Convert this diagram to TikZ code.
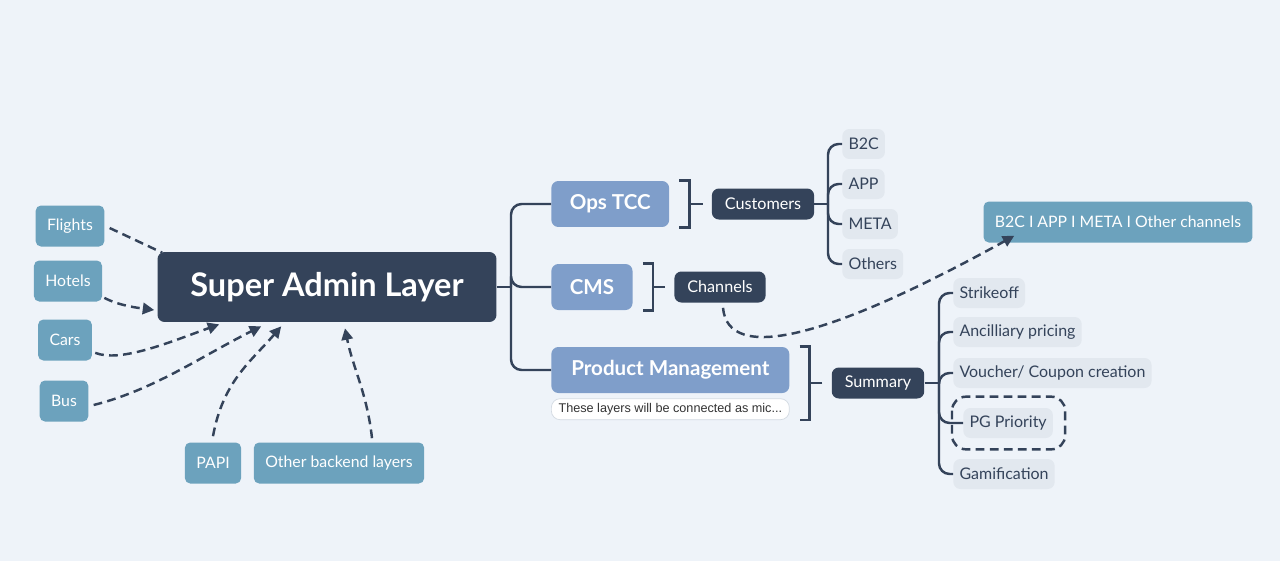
\documentclass[tikz,border=0pt]{standalone}
\usepackage{fontspec}
\setmainfont{Lato}
\newfontfamily\notefont{Liberation Sans}
\usetikzlibrary{positioning,arrows.meta,calc}

\definecolor{bgblue}{HTML}{EEF3F9}
\definecolor{navy}{HTML}{34435A}
\definecolor{steel}{HTML}{7F9ECA}
\definecolor{tealish}{HTML}{6CA2BD}
\definecolor{leafgrey}{HTML}{E2E8EF}
\definecolor{notegrey}{HTML}{D3DAE2}

\begin{document}
\begin{tikzpicture}[x=0.02cm, y=-0.02cm, node distance=0.1cm,
   mainbox/.style={rectangle, fill=navy, text=white, rounded corners=4pt, minimum width=6.78cm, minimum height=1.4cm, font=\fontsize{18.5}{20}\selectfont\bfseries},
   srcbox/.style={rectangle, fill=tealish, text=white, rounded corners=3pt, minimum height=0.82cm, inner xsep=6.5pt, font=\fontsize{9}{10}\selectfont},
   topicbox/.style={rectangle, fill=steel, text=white, rounded corners=4pt, minimum height=0.92cm, inner xsep=10.5pt, anchor=west, font=\fontsize{11.7}{13}\selectfont\bfseries},
   labelbox/.style={rectangle, fill=navy, text=white, rounded corners=4pt, minimum height=0.62cm, inner xsep=7.4pt, font=\fontsize{9.2}{10}\selectfont},
   leafbox/.style={rectangle, fill=leafgrey, text=navy, rounded corners=4pt, minimum height=0.6cm, inner xsep=3.5pt, anchor=west, font=\fontsize{9.1}{10}\selectfont},
   notebox/.style={rectangle, draw=notegrey, fill=white, rounded corners=5pt, minimum width=4.76cm, minimum height=0.42cm, inner sep=1pt, text=black!80, font=\notefont\fontsize{7.2}{8}\selectfont},
   tree/.style={draw=navy, line width=1.4pt, rounded corners=6pt},
   dashlink/.style={draw=navy, line width=1.4pt, dash pattern=on 5pt off 3pt},
   pointed/.style={-{Triangle[length=6.5pt,width=6.5pt]}}
]
% Background
\fill[bgblue] (0,0) rectangle (1280,561);

% Nodes
\node[mainbox] (sal) at (327,287) {Super Admin Layer};
\node[srcbox] (flights) at (70,226) {Flights};
\node[srcbox] (hotels) at (68,281) {Hotels};
\node[srcbox] (cars) at (65,340) {Cars};
\node[srcbox] (bus) at (64,401) {Bus};
\node[srcbox] (papi) at (213,463) {PAPI};
\node[srcbox] (backend) at (339,463) {Other backend layers};

\node[topicbox] (ops) at (551,204) {Ops TCC};
\node[topicbox] (cms) at (551,287) {CMS};
\node[topicbox, minimum width=4.76cm] (pm) at (551,370) {Product Management};
\node[notebox, below=0.1cm of pm] (note) {These layers will be connected as mic...};

\node[labelbox] (cust) at (763,204) {Customers};
\node[labelbox] (chan) at (720,287) {Channels};
\node[labelbox] (summ) at (878,383) {Summary};

\node[leafbox] (b2c) at (842,144) {B2C};
\node[leafbox] (app) at (842,184) {APP};
\node[leafbox] (meta) at (842,224) {META};
\node[leafbox] (others) at (842,264) {Others};

\node[srcbox] (allch) at (1118,222) {B2C I APP I META I Other channels};

\node[leafbox] (strike) at (953,293) {Strikeoff};
\node[leafbox] (ancil) at (953,332) {Ancilliary pricing};
\node[leafbox] (voucher) at (953,373) {Voucher/ Coupon creation};
\node[leafbox] (pgprio) at (963,423) {PG Priority};
\node[leafbox] (gamif) at (953,474) {Gamification};

\draw[dashlink, rounded corners=8pt] ($(pgprio.north west)+(-11,-11)$) rectangle ($(pgprio.south east)+(12,11)$);

% Tree lines
\coordinate (mainfork) at (511,287);
\draw[tree] (sal.east) -- (mainfork);
\foreach \n in {ops,cms,pm} \draw[tree] (mainfork) |- (\n.west);

\coordinate (custfork) at (828,204);
\draw[tree] (cust.east) -- (custfork);
\foreach \n in {b2c,app,meta,others} \draw[tree] (custfork) |- (\n.west);

\coordinate (summfork) at (939,383);
\draw[tree] (summ.east) -- (summfork);
\foreach \n in {strike,ancil,voucher,pgprio,gamif} \draw[tree] (summfork) |- (\n.west);

% Brackets
\foreach \a/\b/\c in {ops/ops/cust, cms/cms/chan, pm/note/summ} {
  \coordinate (bk) at ($(\a.north east)+(20,0)$);
  \draw[tree, rounded corners=0pt] ($(\a.north east)+(10,0)$) -- (bk) |- ($(\b.south east)+(10,0)$ -| \a.east);
  \draw[tree] ($(\c.west)+(-9,0)$) -- (bk |- \c.west);
}

% Dashed links
\draw[dashlink] ($(flights.east)+(5,2)$) -- ($(sal.north west)+(5,1)$);
\draw[dashlink, pointed] ($(hotels.south east)+(2,-4)$) .. controls +(15,8) and +(-15,-2) .. ($(sal.west)+(-3,23)$);
\draw[dashlink, pointed] ($(cars.south east)+(3,-8)$) .. controls +(25,10) and +(-50,18) .. ($(sal.south west)+(62,2)$);
\draw[dashlink, pointed] ($(bus.east)+(5,4)$) .. controls +(60,-15) and +(-60,30) .. ($(sal.south west)+(104,4)$);
\draw[dashlink, pointed] ($(papi.north)+(0,-6)$) .. controls +(10,-55) and +(-30,35) .. ($(sal.south west)+(124,4)$);
\draw[dashlink, pointed] ($(backend.north)+(33,-4)$) .. controls +(-5,-45) and +(8,40) .. ($(sal.south)+(18,6)$);
\draw[dashlink, pointed] ($(chan.south)+(3,5)$) .. controls +(5,55) and +(-188,104) .. ($(allch.south west)+(31,-7)$);
\end{tikzpicture}
\end{document}
